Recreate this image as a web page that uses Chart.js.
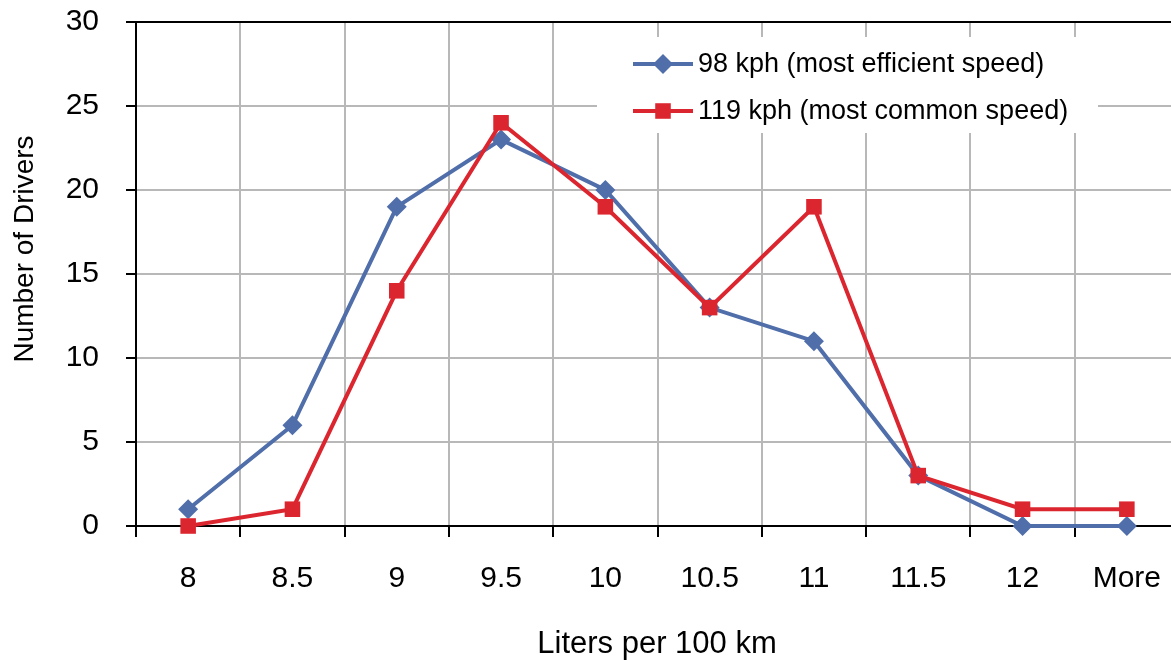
<!DOCTYPE html>
<html>
<head>
<meta charset="utf-8">
<script src="https://cdn.jsdelivr.net/npm/chart.js@4.4.0/dist/chart.umd.min.js"></script>
<style>
html, body { margin: 0; padding: 0; background: #fff; overflow: hidden; }
#wrap { width: 1190px; height: 660px; }
</style>
</head>
<body>
<div id="wrap"><canvas id="lineChart" width="1190" height="660"></canvas></div>
<script>
const LABELS = ['8', '8.5', '9', '9.5', '10', '10.5', '11', '11.5', '12', 'More'];
const EFFICIENT = [1, 6, 19, 23, 20, 13, 11, 3, 0, 0];
const COMMON = [0, 1, 14, 24, 19, 13, 19, 3, 1, 1];
const SERIES_NAMES = ['98 kph (most efficient speed)', '119 kph (most common speed)'];
const Y_TICKS = [0, 5, 10, 15, 20, 25, 30];
const X_TITLE = 'Liters per 100 km';
const Y_TITLE = 'Number of Drivers';

const FONT = '"Liberation Sans", Arial, sans-serif';
const BLUE = '#4f6eaa';
const RED = '#dc262f';
const GRID = '#b8b8b8';

function shape(ctx, style, x, y, r) {
    ctx.beginPath();
    if (style === 'rectRot') {
        ctx.moveTo(x - r, y); ctx.lineTo(x, y - r); ctx.lineTo(x + r, y); ctx.lineTo(x, y + r);
    } else {
        const s = r * Math.SQRT1_2;
        ctx.rect(x - s, y - s, 2 * s, 2 * s);
    }
    ctx.closePath();
    ctx.fill();
}

// legend box sitting inside the plot, white over the grid
const boxLegend = {
    id: 'boxLegend',
    beforeDatasetsDraw(chart) {
        const ctx = chart.ctx;
        ctx.save();
        ctx.fillStyle = '#fff';
        ctx.fillRect(597, 37, 501, 96);
        chart.data.datasets.forEach(function(ds, i) {
            const y = 64 + i * 47;
            ctx.strokeStyle = ds.borderColor;
            ctx.lineWidth = 4;
            ctx.beginPath(); ctx.moveTo(633, y); ctx.lineTo(693, y); ctx.stroke();
            ctx.fillStyle = ds.backgroundColor;
            shape(ctx, ds.pointStyle, 663, y, ds.pointRadius);
            ctx.fillStyle = '#000';
            ctx.font = '27px ' + FONT;
            ctx.textAlign = 'left';
            ctx.textBaseline = 'middle';
            ctx.fillText(ds.label, 698, y + 1);
        });
        ctx.restore();
    }
};

const axisTitles = {
    id: 'axisTitles',
    afterDraw(chart) {
        const ctx = chart.ctx;
        ctx.save();
        ctx.fillStyle = '#000';
        ctx.textAlign = 'center';
        ctx.textBaseline = 'alphabetic';
        ctx.font = '31px ' + FONT;
        ctx.fillText(X_TITLE, 657, 653);
        ctx.translate(33, 249);
        ctx.rotate(-Math.PI / 2);
        ctx.font = '28px ' + FONT;
        ctx.fillText(Y_TITLE, 0, 0);
        ctx.restore();
    }
};

const ctx1 = document.getElementById('lineChart');

new Chart(ctx1, {
    type: 'line',
    data: {
        labels: LABELS,
        datasets: [{
            label: SERIES_NAMES[0],
            data: EFFICIENT,
            borderColor: BLUE,
            backgroundColor: BLUE,
            borderWidth: 4,
            pointStyle: 'rectRot',
            pointRadius: 10,
            pointBorderWidth: 0,
            tension: 0,
            clip: false,
            order: 1
        }, {
            label: SERIES_NAMES[1],
            data: COMMON,
            borderColor: RED,
            backgroundColor: RED,
            borderWidth: 4,
            pointStyle: 'rect',
            pointRadius: 11,
            pointBorderWidth: 0,
            tension: 0,
            clip: false,
            order: 0
        }]
    },
    options: {
        responsive: false,
        animation: false,
        layout: { autoPadding: false, padding: { top: 22, right: 11, left: 0, bottom: 0 } },
        plugins: {
            legend: { display: false },
            tooltip: { enabled: false }
        },
        scales: {
            x: {
                offset: true,
                grid: { offset: true, color: GRID, lineWidth: 2, tickColor: '#000', tickLength: 11 },
                border: { color: '#000', width: 2 },
                ticks: { font: { family: FONT, size: 30 }, color: '#000', padding: 24, maxRotation: 0 },
                afterFit: function(s) { s.height = 134; s.paddingLeft = 0; s.paddingRight = 0; }
            },
            y: {
                min: Y_TICKS[0],
                max: Y_TICKS[Y_TICKS.length - 1],
                afterBuildTicks: function(s) { s.ticks = Y_TICKS.map(function(v) { return { value: v }; }); },
                grid: {
                    color: function(c) { return c.tick && c.tick.value === 30 ? '#000' : GRID; },
                    lineWidth: 2, tickColor: '#000', tickLength: 10
                },
                border: { color: '#000', width: 2 },
                ticks: { font: { family: FONT, size: 30 }, color: '#000', padding: 27 },
                afterFit: function(s) { s.width = 136; s.paddingTop = 0; s.paddingBottom = 0; }
            }
        }
    },
    plugins: [boxLegend, axisTitles]
});
</script>
</body>
</html>
